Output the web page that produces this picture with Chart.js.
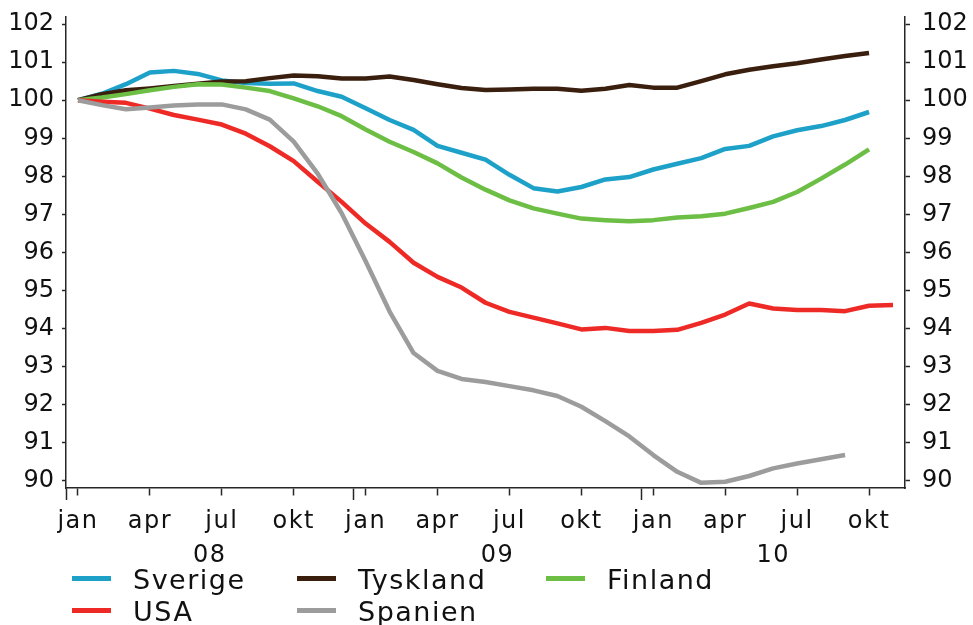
<!DOCTYPE html>
<html><head><meta charset="utf-8">
<script src="https://cdn.jsdelivr.net/npm/chart.js@4.4.1/dist/chart.umd.min.js"></script>
<style>
html,body{margin:0;padding:0;background:#fff;overflow:hidden;}
#wrap{position:relative;width:973px;height:625px;background:#fff;}
canvas{position:absolute;left:0;top:0;}
.lgt{position:absolute;font-family:'DejaVu Sans',sans-serif;font-size:27px;letter-spacing:1.5px;color:#111;line-height:32px;white-space:nowrap;}
.sw{position:absolute;width:39px;height:4.5px;}
</style></head><body>
<div id="wrap"><canvas id="c" width="973" height="625"></canvas><div id="legend"></div></div>
<script>
// ---- data ----
const categories = [
 'jan 08','feb 08','mar 08','apr 08','maj 08','jun 08','jul 08','aug 08','sep 08','okt 08','nov 08','dec 08',
 'jan 09','feb 09','mar 09','apr 09','maj 09','jun 09','jul 09','aug 09','sep 09','okt 09','nov 09','dec 09',
 'jan 10','feb 10','mar 10','apr 10','maj 10','jun 10','jul 10','aug 10','sep 10','okt 10','nov 10'
];
const tickMonths = ['jan','apr','jul','okt'];
const yTicks = [90,91,92,93,94,95,96,97,98,99,100,101,102];
const seriesNames = ['Sverige','Tyskland','Finland','USA','Spanien'];

const sverige = [100,100.17,100.42,100.73,100.77,100.69,100.52,100.45,100.43,100.44,100.24,100.09,
 99.79,99.48,99.22,98.80,98.62,98.44,98.04,97.69,97.60,97.72,97.92,97.98,
 98.18,98.33,98.48,98.72,98.80,99.05,99.21,99.32,99.48,99.69];
const tyskland = [100,100.16,100.26,100.31,100.37,100.43,100.49,100.50,100.58,100.65,100.63,100.57,
 100.57,100.62,100.53,100.42,100.32,100.27,100.28,100.30,100.30,100.25,100.30,100.40,
 100.33,100.33,100.50,100.68,100.80,100.89,100.97,101.07,101.16,101.24];
const finland = [100,100.07,100.16,100.26,100.35,100.42,100.41,100.33,100.24,100.05,99.84,99.58,
 99.23,98.91,98.64,98.34,97.97,97.65,97.37,97.16,97.02,96.89,96.85,96.82,
 96.85,96.92,96.95,97.02,97.17,97.33,97.59,97.94,98.31,98.71];
const usa = [100,99.96,99.93,99.78,99.61,99.49,99.36,99.12,98.79,98.40,97.86,97.33,
 96.76,96.28,95.73,95.36,95.08,94.68,94.44,94.29,94.14,93.98,94.02,93.94,
 93.94,93.97,94.15,94.37,94.66,94.53,94.49,94.49,94.46,94.60,94.62];
const spanien = [100,99.87,99.76,99.81,99.86,99.89,99.89,99.76,99.49,98.91,98.07,97.03,
 95.77,94.45,93.36,92.89,92.68,92.60,92.49,92.38,92.23,91.95,91.57,91.17,
 90.68,90.24,89.95,89.98,90.13,90.33,90.46,90.57,90.68];

const seriesData = [sverige, tyskland, finland, usa, spanien];
const seriesColors = ['#1ea1c8','#3a1e0e','#6cbe45','#ee2a26','#9c9c9c'];

// ---- x tick definitions derived from categories ----
const xTickLabel = new Map();
const xTickKind = new Map();
const yearIdx = {};
categories.forEach((c, i) => {
  const [m, y] = c.split(' ');
  if (!yearIdx[y]) yearIdx[y] = [];
  yearIdx[y].push(i);
  if (tickMonths.includes(m)) { xTickLabel.set(i, [m]); xTickKind.set(i, 'month'); }
});
Object.keys(yearIdx).forEach(y => {
  const idx = yearIdx[y];
  const start = idx[0] - 0.5, end = idx[idx.length - 1] + 0.5;
  xTickLabel.set(start, ''); xTickKind.set(start, 'year');
  const mid = (start + end) / 2;
  xTickLabel.set(mid, ['', y]); xTickKind.set(mid, 'label');
});
const xTickValues = [...xTickLabel.keys()].sort((a, b) => a - b);

const FONT = "'DejaVu Sans', sans-serif";
const AX = '#262626';

const yAxis = (pos) => ({
  type: 'linear', position: pos, min: 89.815, max: 102.185,
  afterBuildTicks: s => { s.ticks = yTicks.map(v => ({ value: v })); },
  afterFit: s => { s.width = pos === 'left' ? 66 : 68; s.paddingTop = 0; s.paddingBottom = 0; },
  border: { display: true, color: AX, width: 1.5 },
  grid: { display: true, drawOnChartArea: false, drawTicks: true, tickLength: pos === 'left' ? 4 : 5, color: AX, tickColor: AX, tickWidth: 1.5 },
  ticks: { font: { family: FONT, size: 24 }, color: '#111', padding: pos === 'left' ? 8 : 12, autoSkip: false }
});

const letterSpacingPlugin = {
  id: 'xLetterSpacing',
  afterLayout(chart) {
    const s = chart.scales.x;
    if (s && !s._lsPatched) {
      const orig = s.drawLabels;
      s.drawLabels = function (area) {
        const c = this.ctx; c.save();
        try { c.letterSpacing = '1.5px'; } catch (e) {}
        orig.call(this, area); c.restore();
      };
      s._lsPatched = true;
    }
  }
};

new Chart(document.getElementById('c'), {
  type: 'line',
  data: {
    datasets: seriesNames.map((name, k) => ({
      label: name,
      data: seriesData[k].map((v, i) => ({ x: i, y: v })),
      borderColor: seriesColors[k], backgroundColor: seriesColors[k],
      borderWidth: 4.5, pointRadius: 0, tension: 0, fill: false,
      borderJoinStyle: 'round', borderCapStyle: 'butt',
      order: seriesNames.length - k, yAxisID: 'y'
    }))
  },
  options: {
    responsive: false, animation: false, devicePixelRatio: 1,
    layout: { padding: { top: 17, bottom: 57, left: 0, right: 0 } },
    plugins: { legend: { display: false }, tooltip: { enabled: false } },
    scales: {
      x: {
        type: 'linear', position: 'bottom', min: -0.5, max: categories.length - 0.5,
        afterBuildTicks: s => { s.ticks = xTickValues.map(v => ({ value: v })); },
        afterFit: s => { s.height = 80; s.paddingLeft = 0; s.paddingRight = 0; },
        border: { display: true, color: AX, width: 1.5 },
        grid: {
          display: true, drawOnChartArea: false, drawTicks: true, tickLength: 12,
          color: AX, tickWidth: 1.5,
          tickColor: ctx => (ctx.tick && xTickKind.get(ctx.tick.value) === 'label') ? 'rgba(0,0,0,0)' : AX,
          tickBorderDash: ctx => (ctx.tick && xTickKind.get(ctx.tick.value) === 'month') ? [7, 100] : []
        },
        ticks: {
          autoSkip: false, maxRotation: 0, minRotation: 0, padding: 5,
          font: { family: FONT, size: 24, lineHeight: 1.4 }, color: '#111',
          callback: v => xTickLabel.has(v) ? xTickLabel.get(v) : ''
        }
      },
      y: yAxis('left'),
      y2: yAxis('right')
    }
  },
  plugins: [letterSpacingPlugin]
});

// ---- HTML legend (grid of 3 columns) ----
const legend = document.getElementById('legend');
const colX = [72, 297, 546];
const rowTop = [564, 596];
seriesNames.forEach((name, k) => {
  const col = k % 3, row = Math.floor(k / 3);
  const sw = document.createElement('div');
  sw.className = 'sw';
  sw.style.left = colX[col] + 'px';
  sw.style.top = (rowTop[row] + 12) + 'px';
  sw.style.background = seriesColors[k];
  legend.appendChild(sw);
  const t = document.createElement('div');
  t.className = 'lgt';
  t.style.left = (colX[col] + 61) + 'px';
  t.style.top = rowTop[row] + 'px';
  t.textContent = name;
  legend.appendChild(t);
});
</script>
</body></html>
